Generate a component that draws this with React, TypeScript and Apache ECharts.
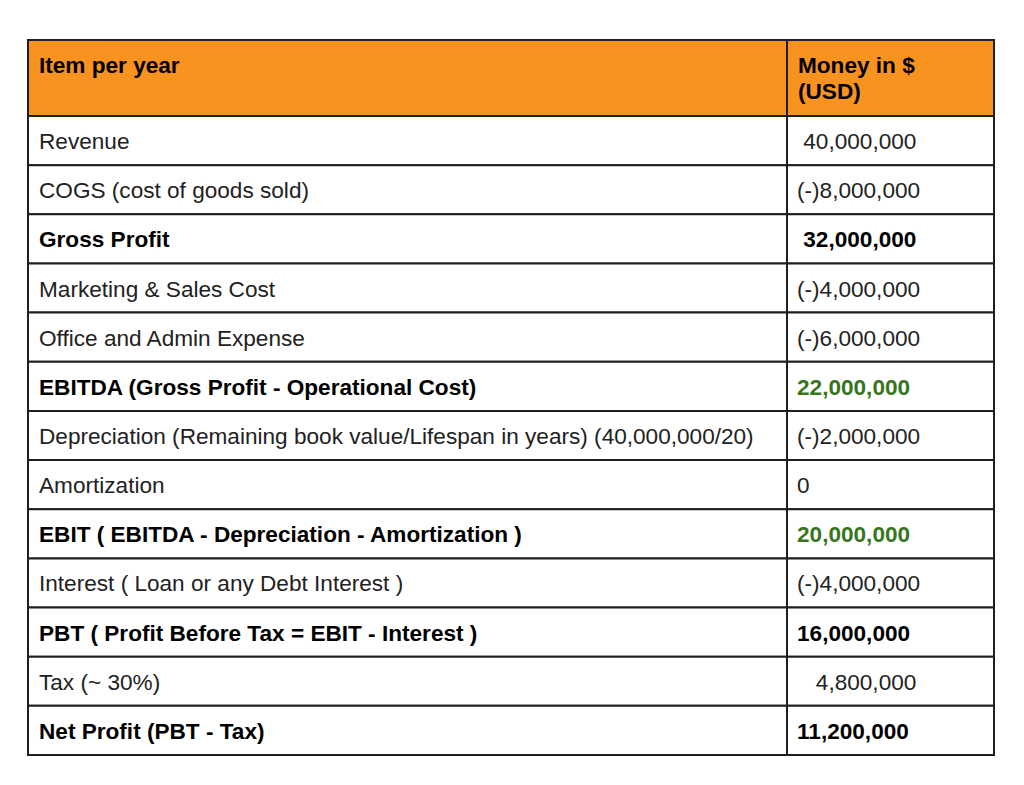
import React, { useEffect, useRef } from "react";
import * as echarts from "echarts";

// ---- Data ----
const headerItem = "Item per year";
const headerAmount = "Money in $\n(USD)";
const items = [
  "Revenue",
  "COGS (cost of goods sold)",
  "Gross Profit",
  "Marketing & Sales Cost",
  "Office and Admin Expense",
  "EBITDA (Gross Profit - Operational Cost)",
  "Depreciation (Remaining book value/Lifespan in years) (40,000,000/20)",
  "Amortization",
  "EBIT ( EBITDA - Depreciation - Amortization )",
  "Interest ( Loan or any Debt Interest )",
  "PBT ( Profit Before Tax = EBIT - Interest )",
  "Tax (~ 30%)",
  "Net Profit (PBT - Tax)",
];
const amounts = [
  "\u00a040,000,000",
  "(-)8,000,000",
  "\u00a032,000,000",
  "(-)4,000,000",
  "(-)6,000,000",
  "22,000,000",
  "(-)2,000,000",
  "0",
  "20,000,000",
  "(-)4,000,000",
  "16,000,000",
  "\u00a0\u00a0\u00a04,800,000",
  "11,200,000",
];
const boldRows = [false, false, true, false, false, true, false, false, true, false, true, false, true];
const highlightRows = [false, false, false, false, false, true, false, false, true, false, false, false, false];

// ---- Layout / style constants ----
const HEADER_ROWS = 76 / 49.15;
const COL_SPLIT = 759 / 966;
const FONT_FAMILY = '"Liberation Sans", Arial, Helvetica, sans-serif';
const FONT_SIZE = 22.6;
const ORANGE = "#f7931e";
const BORDER = "#1f1f1f";
const GREEN = "#38761d";

export default function App() {
  const ref = useRef<HTMLDivElement>(null);

  useEffect(() => {
    if (!ref.current) return;
    const chart = echarts.init(ref.current, null, { renderer: "svg" });

    const data: any[] = [
      { value: [0, -HEADER_ROWS, 0], kind: "header", left: headerItem, right: headerAmount },
    ];
    items.forEach((it, i) => {
      data.push({
        value: [0, i, i + 1],
        kind: "row",
        left: it,
        right: amounts[i],
        bold: boldRows[i],
        green: highlightRows[i],
      });
    });

    const renderItem = (params: any, api: any) => {
      const d = data[params.dataIndex];
      const y0 = api.value(1);
      const y1 = api.value(2);
      const tl = api.coord([0, y0]);
      const mid = api.coord([COL_SPLIT, y0]);
      const br = api.coord([1, y1]);
      const top = tl[1];
      const bottom = br[1];
      const h = bottom - top;
      const x0 = tl[0];
      const xm = mid[0];
      const x1 = br[0];
      const isHeader = d.kind === "header";
      const fillBg = isHeader ? ORANGE : "#ffffff";
      const bold = isHeader || d.bold;
      const font = `${bold ? "bold " : ""}${FONT_SIZE}px ${FONT_FAMILY}`;
      const textColor = bold ? "#000000" : "#222222";
      const children: any[] = [
        {
          type: "rect",
          shape: { x: x0, y: top, width: xm - x0, height: h },
          style: { fill: fillBg, stroke: BORDER, lineWidth: 2 },
        },
        {
          type: "rect",
          shape: { x: xm, y: top, width: x1 - xm, height: h },
          style: { fill: fillBg, stroke: BORDER, lineWidth: 2 },
        },
      ];
      if (isHeader) {
        children.push(
          {
            type: "text",
            style: {
              x: x0 + 11,
              y: top + 12.5,
              text: d.left,
              font,
              fill: "#000000",
              align: "left",
              verticalAlign: "top",
              lineHeight: 26,
            },
          },
          {
            type: "text",
            style: {
              x: xm + 11,
              y: top + 12.5,
              text: d.right,
              font,
              fill: "#000000",
              align: "left",
              verticalAlign: "top",
              lineHeight: 26,
            },
          }
        );
      } else {
        const cy = top + h / 2 + 1;
        children.push(
          {
            type: "text",
            style: {
              x: x0 + 11,
              y: cy,
              text: d.left,
              font,
              fill: textColor,
              align: "left",
              verticalAlign: "middle",
            },
          },
          {
            type: "text",
            style: {
              x: xm + 10,
              y: cy,
              text: d.right,
              font,
              fill: d.green ? GREEN : textColor,
              align: "left",
              verticalAlign: "middle",
            },
          }
        );
      }
      return { type: "group", children };
    };

    chart.setOption({
      animation: false,
      backgroundColor: "#ffffff",
      grid: { left: 28, right: 30, top: 40, bottom: 30 },
      xAxis: { type: "value", min: 0, max: 1, show: false },
      yAxis: { type: "value", inverse: true, min: -HEADER_ROWS, max: items.length, show: false },
      series: [
        {
          type: "custom",
          coordinateSystem: "cartesian2d",
          clip: false,
          encode: { x: 0, y: 1 },
          renderItem,
          data: data.map((d) => d.value),
        },
      ],
    });

    return () => chart.dispose();
  }, []);

  return (
    <div
      ref={ref}
      style={{ position: "fixed", left: 0, top: 0, width: 1024, height: 785, background: "#ffffff" }}
    />
  );
}
